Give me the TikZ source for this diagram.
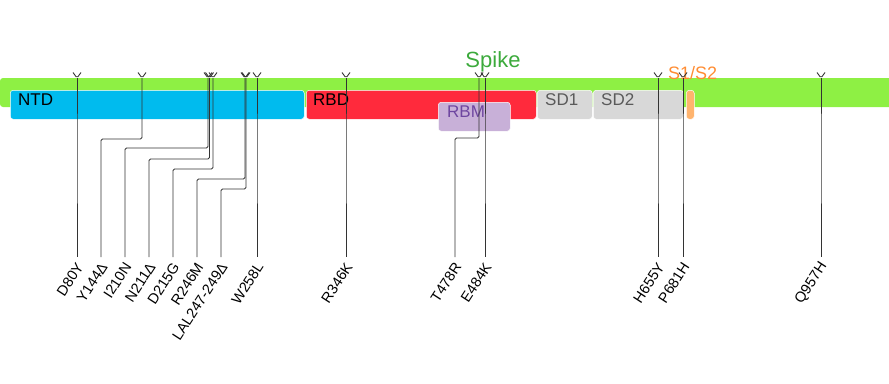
\documentclass[tikz,border=0pt]{standalone}
\usepackage{fontspec}
\setmainfont{Liberation Sans}
\definecolor{spikegreen}{RGB}{142,240,68}
\definecolor{spiketext}{RGB}{60,170,60}
\definecolor{ntdblue}{RGB}{0,187,238}
\definecolor{rbdred}{RGB}{255,42,60}
\definecolor{rbmlilac}{RGB}{200,176,216}
\definecolor{rbmtext}{RGB}{110,70,160}
\definecolor{sdgray}{RGB}{216,216,216}
\definecolor{sdtext}{RGB}{90,90,90}
\definecolor{cleaveorange}{RGB}{255,180,110}
\definecolor{cleavetext}{RGB}{255,140,50}
\tikzset{
  domainbox/.style={rounded corners=3pt, draw=white, line width=0.5pt,
    anchor=north west, inner sep=0pt},
  domlabel/.style={anchor=base west, inner sep=0pt,
    font=\fontsize{17}{17}\selectfont},
  mutlabel/.style={anchor=east, rotate=57, inner sep=0pt,
    font=\fontsize{14.5}{14.5}\selectfont},
  mutline/.style={draw=black!80, line width=0.9pt, rounded corners=1.5pt}
}
\begin{document}
\begin{tikzpicture}[x=1pt, y=-1pt]
    \useasboundingbox (0,0) rectangle (889,383);
    % backbone of the spike protein
    \begin{scope}
        \clip (0,0) rectangle (889,383);
        \fill[spikegreen, rounded corners=3pt] (0,78) rectangle (900,107);
    \end{scope}
    \node[anchor=base, inner sep=0pt, text=spiketext,
        font=\fontsize{22}{22}\selectfont] (spike) at (493,67) {Spike};
    % domains
    \node[domainbox, fill=ntdblue, minimum width=294, minimum height=29] (ntd) at (10,90) {};
    \node[domainbox, fill=rbdred, minimum width=230, minimum height=29] (rbd) at (306,90) {};
    \node[domainbox, fill=rbmlilac, minimum width=72, minimum height=29] (rbm) at (438,102) {};
    \node[domainbox, fill=sdgray, minimum width=55, minimum height=29] (sd1) at (537,90) {};
    \node[domainbox, fill=sdgray, minimum width=90, minimum height=29] (sd2) at (593,90) {};
    \node[domainbox, fill=cleaveorange, minimum width=8, minimum height=29] (s1s2) at (686,90) {};
    \node[domlabel] (ntdl) at ([xshift=8pt,yshift=-15pt]ntd.north west) {NTD};
    \node[domlabel] (rbdl) at ([xshift=7pt,yshift=-15pt]rbd.north west) {RBD};
    \node[domlabel, text=rbmtext] (rbml) at ([xshift=9pt,yshift=-15pt]rbm.north west) {RBM};
    \node[domlabel, text=sdtext] (sd1l) at ([xshift=8pt,yshift=-15pt]sd1.north west) {SD1};
    \node[domlabel, text=sdtext] (sd2l) at ([xshift=8pt,yshift=-15pt]sd2.north west) {SD2};
    \node[anchor=base west, inner sep=0pt, text=cleavetext,
        font=\fontsize{18}{18}\selectfont] (s1s2l) at (668,79) {S1/S2};
    % mutations: site / elbow height / label position / name
    \foreach \xt/\ye/\xb/\name [count=\i] in {
        77/150/77/D80Y, 142/139/101/Y144Δ, 208/148/125/I210N,
        209.5/159/149/N211Δ, 213/169/173/D215G, 245/179/197/R246M,
        246/189/221/LAL247-249Δ, 257/150/257/W258L, 346/150/346/R346K,
        479/138/455/T478R, 485/150/485/E484K, 658/150/658/H655Y,
        683/150/683/P681H, 821/150/821/Q957H}{
            \coordinate (t\i) at (\xt,78);
            \coordinate (b\i) at (\xb,257);
            \node[mutlabel] (m\i) at ([xshift=3pt,yshift=-7pt]b\i) {\name};
            \draw[mutline] (t\i) -- (\xt,\ye) -| (b\i);
            \draw[mutline] (\xt-4,72.5) -- (t\i) -- (\xt+4,72.5);
        }
\end{tikzpicture}
\end{document}
